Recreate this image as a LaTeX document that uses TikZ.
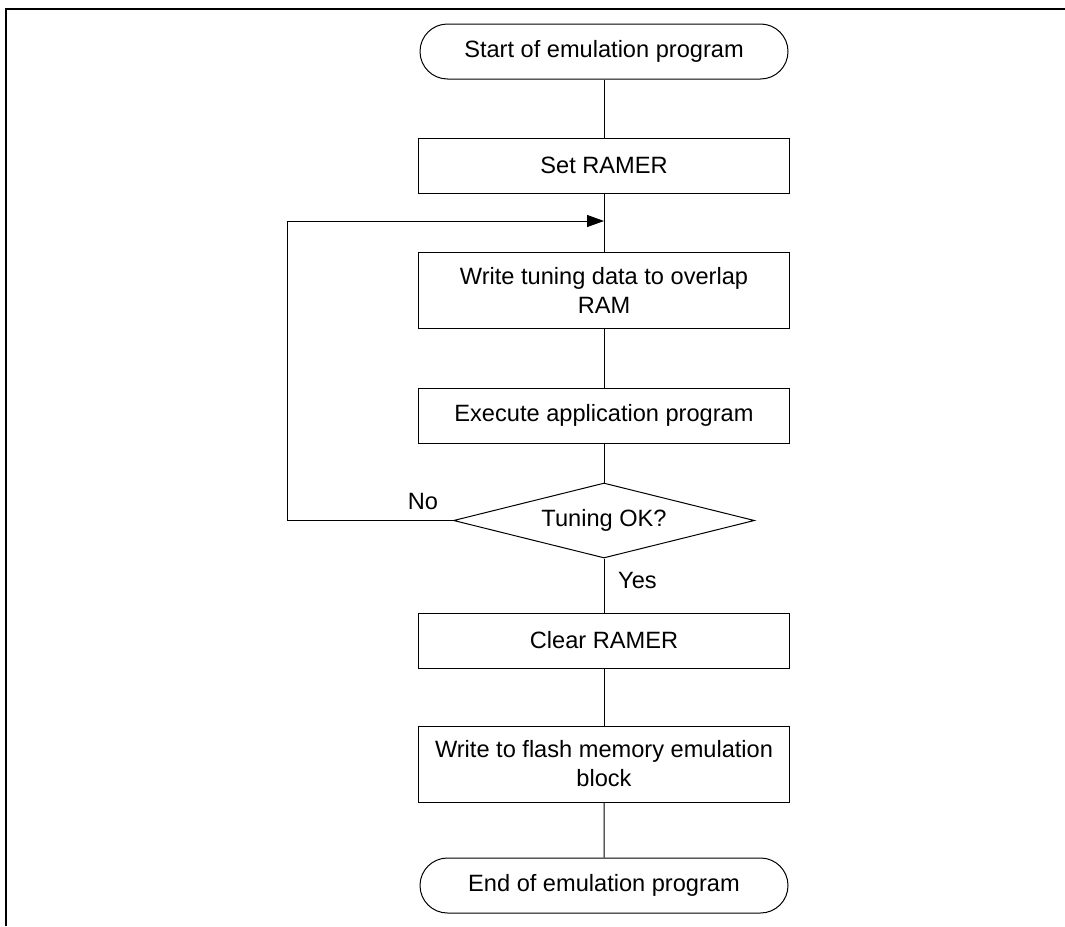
\documentclass[tikz,border=0pt]{standalone}
\usepackage{fontspec}
\setmainfont{Liberation Sans}
\usetikzlibrary{shapes.geometric,shapes.misc,arrows.meta}

\newcommand{\flowfont}{\fontsize{23.6}{29}\selectfont}

\tikzset{
	procbox/.style={draw, line width=1pt, rectangle, minimum width=371pt, minimum height=55pt, inner sep=0pt, align=center, font=\flowfont},
	termbox/.style={draw, line width=1pt, rounded rectangle, minimum width=368pt, minimum height=55pt, inner sep=0pt, font=\flowfont},
	decbox/.style={draw, line width=1pt, diamond, aspect=4, minimum width=301pt, minimum height=75pt, inner sep=0pt, font=\flowfont},
	flow/.style={draw, line width=1pt},
	lbl/.style={font=\flowfont, inner sep=0pt}
}

\begin{document}
\begin{tikzpicture}[x=1pt, y=-1pt]

			\useasboundingbox (0,0) rectangle (1065,926);

			% --- Frame ---
			\draw[line width=2pt] (6,926) -- (6,9) -- (1065,9);

			% --- Main column ---
			\node[termbox] (start) at (604,51.5) {Start of emulation program};
			\node[procbox] (setr) at (604,165.5) {Set RAMER};
			\node[procbox, minimum height=76pt] (tune) at (604,290.5) {Write tuning data to overlap\\RAM};
			\node[procbox] (exec) at (604,415.5) {Execute application program};
			\node[decbox] (tuneok) at (604,520.5) {Tuning OK?};
			\node[procbox] (clear) at (604,640.5) {Clear RAMER};
			\node[procbox, minimum height=76pt] (flash) at (604,764) {Write to flash memory emulation\\block};
			\node[termbox] (stop) at (604,885.5) {End of emulation program};

			\draw[flow] (start) -- (setr);
			\draw[flow] (setr) -- (tune);
			\draw[flow] (tune) -- (exec);
			\draw[flow] (exec) -- (tuneok);
			\draw[flow] (tuneok) -- (clear);
			\draw[flow] (clear) -- (flash);
			\draw[flow] (flash) -- (stop);

			% --- Loop back on No ---
			\coordinate (loopc) at (287,221);
			\coordinate (join) at (604,221);
			\draw[flow, -{Triangle[length=17pt, width=12pt]}] (tuneok.west) -| (loopc) -- (join);

			\node[lbl] (nolab) at (423,501) {No};
			\node[lbl, anchor=west] (yeslab) at (618,580) {Yes};

		\end{tikzpicture}
\end{document}
